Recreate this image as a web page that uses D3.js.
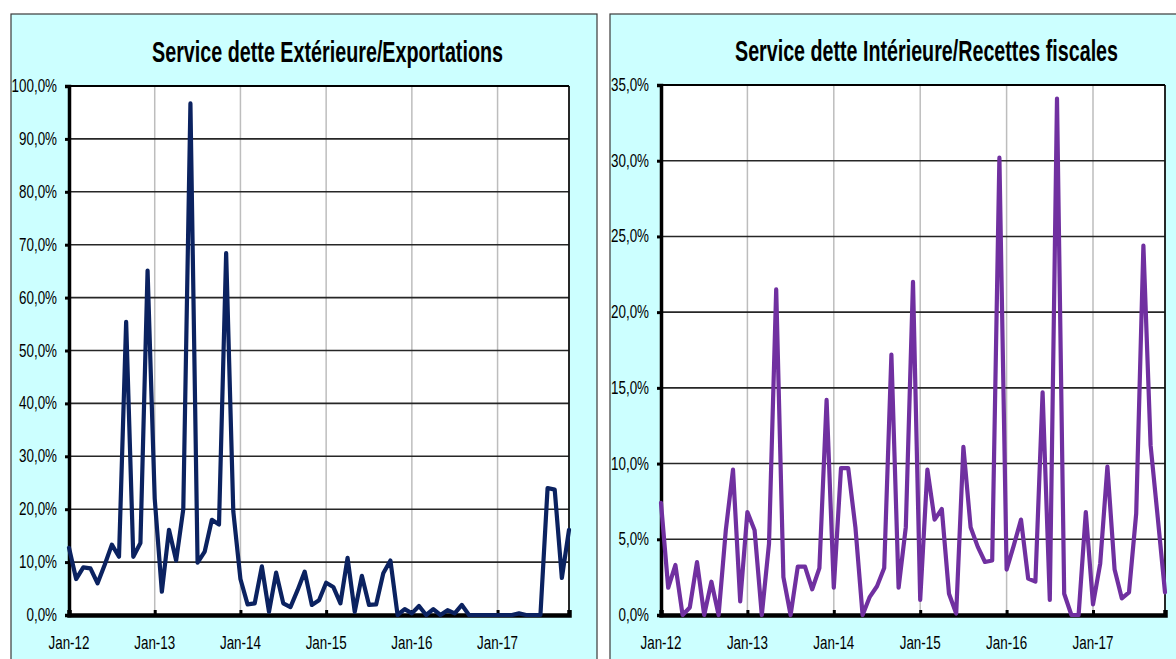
<!DOCTYPE html>
<html>
<head>
<meta charset="utf-8">
<script src="https://cdn.jsdelivr.net/npm/d3@7"></script>
<style>
  html, body { margin: 0; padding: 0; background: #ffffff; }
  svg { display: block; }
  text { font-family: "Liberation Sans", Arial, sans-serif; fill: #000; }
</style>
</head>
<body>
<svg id="chart" width="1176" height="659"></svg>
<script>
// ---------- DATA ----------
const startMonth = new Date(2012, 0, 1);
const endMonth = new Date(2017, 11, 1); // exclusive -> Jan-12 .. Nov-17 (71 months)
const months = d3.timeMonth.range(startMonth, endMonth);

const xTickLabels = ["Jan-12", "Jan-13", "Jan-14", "Jan-15", "Jan-16", "Jan-17"];

const titleExt = "Service dette Extérieure/Exportations";
const titleInt = "Service dette Intérieure/Recettes fiscales";

// Service dette Extérieure / Exportations (%)
const extValues = [
  12.7, 6.8, 9.0, 8.8, 6.0, 9.5, 13.3, 11.0, 55.4, 11.0, 13.6, 65.1,
  22.0, 4.4, 16.1, 10.3, 20.0, 96.7, 9.9, 12.0, 18.0, 17.1, 68.4, 19.6,
  6.8, 2.0, 2.2, 9.2, 0.6, 8.0, 2.2, 1.5, 4.7, 8.2, 1.9, 2.8,
  6.1, 5.3, 2.2, 10.8, 0.6, 7.4, 1.9, 2.0, 7.9, 10.3, 0.0, 1.1,
  0.3, 1.7, 0.0, 1.1, 0.0, 0.9, 0.3, 1.9, 0.0, 0.0, 0.0, 0.0,
  0.0, 0.0, 0.0, 0.3, 0.0, 0.0, 0.0, 24.0, 23.7, 7.0, 16.1
];

// Service dette Intérieure / Recettes fiscales (%)
const intValues = [
  7.4, 1.8, 3.3, 0.0, 0.5, 3.5, 0.0, 2.2, 0.0, 5.6, 9.6, 0.9,
  6.8, 5.6, 0.0, 4.7, 21.5, 2.5, 0.0, 3.2, 3.2, 1.7, 3.1, 14.2,
  1.8, 9.7, 9.7, 5.8, 0.0, 1.2, 1.9, 3.1, 17.2, 1.8, 5.8, 22.0,
  1.0, 9.6, 6.3, 7.0, 1.4, 0.1, 11.1, 5.8, 4.5, 3.5, 3.6, 30.2,
  3.0, 4.6, 6.3, 2.4, 2.2, 14.7, 1.0, 34.1, 1.4, 0.0, 0.0, 6.8,
  0.7, 3.4, 9.8, 3.0, 1.1, 1.5, 6.7, 24.4, 11.2, 6.4, 1.5
];

// ---------- HELPERS ----------
const fr = d3.formatLocale({decimal: ",", thousands: " ", grouping: [3], currency: ["", " €"], percent: "%"});
const pct = fr.format(".1%");

const svg = d3.select("#chart");

function drawPanel(cfg) {
  const g = svg.append("g");

  // panel background
  g.append("rect")
    .attr("x", cfg.box.x).attr("y", cfg.box.y)
    .attr("width", cfg.box.w).attr("height", cfg.box.h)
    .attr("fill", "#CCFFFF").attr("stroke", "#3a3a3a").attr("stroke-width", 1.2);

  const x = d3.scalePoint().domain(months).range([cfg.plot.left, cfg.plot.right]);
  const y = d3.scaleLinear().domain([0, cfg.yMax]).range([cfg.plot.bottom, cfg.plot.top]);

  // plot area
  g.append("rect")
    .attr("x", cfg.plot.left).attr("y", cfg.plot.top)
    .attr("width", cfg.plot.right - cfg.plot.left)
    .attr("height", cfg.plot.bottom - cfg.plot.top)
    .attr("fill", "#ffffff");

  const yTicks = d3.range(0, cfg.yMax + 1e-9, cfg.yStep);
  const yearTicks = months.filter(d => d.getMonth() === 0);

  // vertical gridlines (years)
  g.append("g").selectAll("line").data(yearTicks.slice(1)).join("line")
    .attr("x1", d => x(d)).attr("x2", d => x(d))
    .attr("y1", cfg.plot.top).attr("y2", cfg.plot.bottom)
    .attr("stroke", "#bdbdbd").attr("stroke-width", 1.5);

  // horizontal gridlines
  g.append("g").selectAll("line").data(yTicks.slice(1)).join("line")
    .attr("x1", cfg.plot.left).attr("x2", cfg.plot.right)
    .attr("y1", d => y(d)).attr("y2", d => y(d))
    .attr("stroke", "#262626").attr("stroke-width", 1.6);

  // right border
  g.append("line")
    .attr("x1", cfg.plot.right).attr("x2", cfg.plot.right)
    .attr("y1", cfg.plot.top).attr("y2", cfg.plot.bottom)
    .attr("stroke", "#111").attr("stroke-width", 1.8);

  // y axis
  const yAxis = d3.axisLeft(y).tickValues(yTicks).tickSize(4).tickFormat("");
  const ya = g.append("g").attr("transform", `translate(${cfg.plot.left},0)`).call(yAxis);
  ya.select(".domain").attr("stroke", "#000").attr("stroke-width", 3.5);
  ya.selectAll(".tick line").attr("stroke", "#000").attr("stroke-width", 3);

  // y labels (condensed)
  g.append("g").selectAll("text").data(yTicks).join("text")
    .attr("transform", d => `translate(${cfg.plot.left - 12},${y(d) + 6}) scale(0.745,1)`)
    .attr("text-anchor", "end")
    .attr("font-size", 18)
    .text(d => pct(d));

  // x axis
  const xAxis = d3.axisBottom(x).tickValues(yearTicks).tickSize(-5).tickFormat("");
  const xa = g.append("g").attr("transform", `translate(0,${cfg.plot.bottom})`).call(xAxis);
  xa.select(".domain").attr("stroke", "#000").attr("stroke-width", 4.5);
  xa.selectAll(".tick line").attr("stroke", "#000").attr("stroke-width", 3);

  g.append("g").selectAll("text").data(yearTicks).join("text")
    .attr("transform", (d, i) => `translate(${x(d)},${cfg.plot.bottom + 34}) scale(0.745,1)`)
    .attr("text-anchor", "middle")
    .attr("font-size", 18)
    .text((d, i) => xTickLabels[i]);

  // series line
  const line = d3.line()
    .x((d, i) => x(months[i]))
    .y(d => y(d / 100));
  g.append("path")
    .datum(cfg.values)
    .attr("d", line)
    .attr("fill", "none")
    .attr("stroke", cfg.color)
    .attr("stroke-width", 4.2)
    .attr("stroke-linejoin", "round")
    .attr("stroke-linecap", "round");

  // top border of plot
  g.append("line")
    .attr("x1", cfg.plot.left).attr("x2", cfg.plot.right)
    .attr("y1", cfg.plot.top).attr("y2", cfg.plot.top)
    .attr("stroke", "#000").attr("stroke-width", 2);

  // title
  g.append("text")
    .attr("x", cfg.title.x).attr("y", cfg.title.y)
    .attr("font-size", 30).attr("font-weight", "bold")
    .attr("textLength", cfg.title.w).attr("lengthAdjust", "spacingAndGlyphs")
    .text(cfg.title.text);
}

drawPanel({
  box: {x: 11, y: 14, w: 586, h: 660},
  plot: {left: 69, right: 569, top: 86, bottom: 615},
  yMax: 1.0, yStep: 0.1,
  values: extValues, color: "#0B2260",
  title: {text: titleExt, x: 152, y: 62, w: 351}
});

drawPanel({
  box: {x: 610, y: 14, w: 580, h: 660},
  plot: {left: 661, right: 1165, top: 85, bottom: 615},
  yMax: 0.35, yStep: 0.05,
  values: intValues, color: "#7030A0",
  title: {text: titleInt, x: 735, y: 61, w: 383}
});
</script>
</body>
</html>
